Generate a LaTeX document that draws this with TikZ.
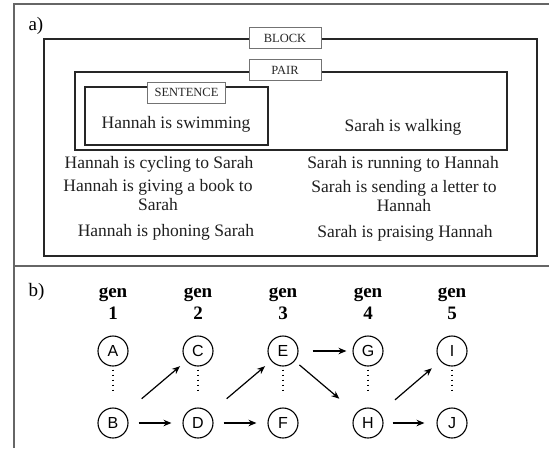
\documentclass[tikz,border=0pt]{standalone}
\usepackage{fontspec}
\setmainfont{Liberation Serif}
\newfontfamily\agentfont{Liberation Sans}
\usepackage{tikz}
\usetikzlibrary{arrows.meta}

\begin{document}
\begin{tikzpicture}[x=1pt, y=-1pt,
        frame/.style={draw=black!60, line width=1.5pt},
        box/.style={draw=black!85, line width=1.4pt},
        tag/.style={draw=black!55, line width=1pt, fill=white, minimum width=72pt, minimum height=21pt, inner xsep=7pt, text=black!85, font=\fontsize{12.5}{14}\selectfont},
        sent/.style={align=center, text=black!88, font=\fontsize{17.5}{19}\selectfont},
        part/.style={anchor=base west, font=\fontsize{19}{22}\selectfont},
        gen/.style={align=center, font=\bfseries\fontsize{19}{22.5}\selectfont},
        agent/.style={draw, circle, minimum size=30pt, inner sep=0pt, line width=1.1pt, font=\agentfont\fontsize{16}{16}\selectfont},
        link/.style={-{Stealth[length=8pt, width=6.5pt]}, line width=1.2pt},
        same/.style={line width=1.6pt, dash pattern=on 1.6pt off 3.4pt}]

        \useasboundingbox (0,0) rectangle (549,448);

        % panel a)
        \draw[frame] (14,448) -- (14,4) -- (549,4);
        \draw[frame, line width=2pt] (14,266) -- (549,266);
        \node[part] (parta) at (25,30) {a)};

        \draw[box] (44,39) rectangle (537,256);
        \draw[box] (75,72) rectangle (507,150);
        \draw[box] (85,87) rectangle (268,145);
        \node[tag] (block) at (285,38) {BLOCK};
        \node[tag] (pair) at (285,70) {PAIR};
        \node[tag] (sentence) at (186.5,92.5) {SENTENCE};

        \node[sent] (swim) at (176,124) {Hannah is swimming};
        \node[sent] (walk) at (403,127) {Sarah is walking};
        \node[sent] (cycle) at (159,164) {Hannah is cycling to Sarah};
        \node[sent] (give) at (158,195.5) {Hannah is giving a book to\\Sarah};
        \node[sent] (phone) at (166,232) {Hannah is phoning Sarah};
        \node[sent] (run) at (403,164) {Sarah is running to Hannah};
        \node[sent] (send) at (404,196.5) {Sarah is sending a letter to\\Hannah};
        \node[sent] (praise) at (405,233) {Sarah is praising Hannah};

        % panel b)
        \node[part] (partb) at (25,296.5) {b)};

        \node[gen] (gen1) at (113,303.5) {gen\\1};
        \node[gen] (gen2) at (198,303.5) {gen\\2};
        \node[gen] (gen3) at (283,303.5) {gen\\3};
        \node[gen] (gen4) at (368,303.5) {gen\\4};
        \node[gen] (gen5) at (452,303.5) {gen\\5};

        \node[agent] (A) at (113,351) {A};
        \node[agent] (B) at (113,423) {B};
        \node[agent] (C) at (198,351) {C};
        \node[agent] (D) at (198,423) {D};
        \node[agent] (E) at (283,351) {E};
        \node[agent] (F) at (283,423) {F};
        \node[agent] (G) at (368,351) {G};
        \node[agent] (H) at (368,423) {H};
        \node[agent] (I) at (452,351) {I};
        \node[agent] (J) at (452,423) {J};

        \draw[same, shorten <=3pt, shorten >=13pt] (A) -- (B);
        \draw[same, shorten <=3pt, shorten >=13pt] (C) -- (D);
        \draw[same, shorten <=3pt, shorten >=13pt] (E) -- (F);
        \draw[same, shorten <=3pt, shorten >=13pt] (G) -- (H);
        \draw[same, shorten <=3pt, shorten >=13pt] (I) -- (J);

        \draw[link, shorten <=10pt, shorten >=11pt] (B) -- (D);
        \draw[link, shorten <=22pt, shorten >=8pt] (B) -- (C);
        \draw[link, shorten <=10pt, shorten >=11pt] (D) -- (F);
        \draw[link, shorten <=22pt, shorten >=8pt] (D) -- (E);
        \draw[link, shorten <=14pt, shorten >=6pt] (E) -- (G);
        \draw[link, shorten <=6pt, shorten >=22pt] (E) -- (H);
        \draw[link, shorten <=9pt, shorten >=12pt] (H) -- (J);
        \draw[link, shorten <=20pt, shorten >=11pt] (H) -- (I);
\end{tikzpicture}
\end{document}
